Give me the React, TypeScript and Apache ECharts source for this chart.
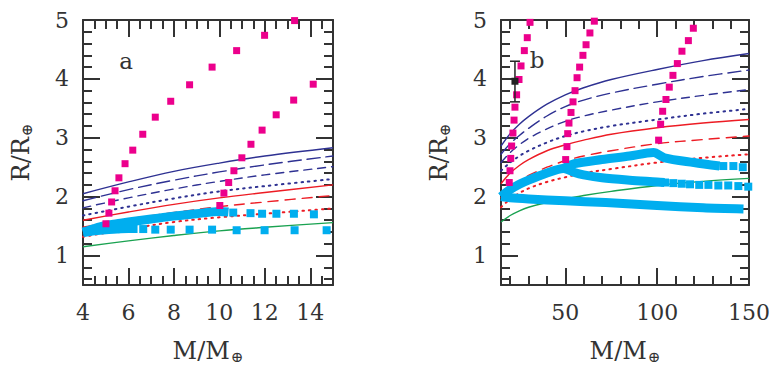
import React, { useEffect, useRef } from "react";
import * as echarts from "echarts";

// ---------- Panel a (M = 4..15) ----------
const massA = [4, 6, 8, 10, 12, 15];
const navySolidA = [2.05, 2.25, 2.43, 2.57, 2.69, 2.83];
const navyLongA = [1.93, 2.12, 2.28, 2.42, 2.54, 2.69];
const navyShortA = [1.81, 1.98, 2.13, 2.26, 2.37, 2.51];
const navyDotA = [1.68, 1.83, 1.97, 2.09, 2.18, 2.3];
const redSolidA = [1.6, 1.74, 1.87, 1.98, 2.07, 2.2];
const redDashA = [1.48, 1.62, 1.73, 1.83, 1.91, 2.02];
const redDotA = [1.32, 1.45, 1.57, 1.65, 1.71, 1.8];
const greenA = [1.15, 1.25, 1.34, 1.42, 1.48, 1.56];

const magA1x = [5.01, 5.14, 5.26, 5.41, 5.58, 5.85, 6.19, 6.63, 7.18, 7.86, 8.69, 9.68, 10.76, 11.99, 13.31];
const magA1y = [1.54, 1.72, 1.91, 2.1, 2.32, 2.56, 2.79, 3.06, 3.35, 3.62, 3.9, 4.2, 4.48, 4.74, 4.99];
const magA2x = [10.02, 10.2, 10.41, 10.64, 10.99, 11.39, 11.88, 12.5, 13.27, 14.13];
const magA2y = [1.85, 2.06, 2.24, 2.44, 2.66, 2.89, 3.13, 3.39, 3.64, 3.91];

const cyanAUpDenseX = [4, 4.5, 5, 5.5, 6, 7, 8, 9, 10, 10.4];
const cyanAUpDenseY = [1.4, 1.46, 1.51, 1.54, 1.57, 1.62, 1.67, 1.71, 1.75, 1.74];
const cyanAUpSparseX = [10.61, 11.37, 11.88, 12.51, 13.28, 14.16];
const cyanAUpSparseY = [1.73, 1.72, 1.71, 1.71, 1.71, 1.7];
const cyanALowDenseX = [4, 4.5, 5, 5.5, 6, 6.4];
const cyanALowDenseY = [1.39, 1.42, 1.44, 1.45, 1.46, 1.46];
const cyanALowSparseX = [6.65, 7.18, 7.86, 8.69, 9.68, 10.76, 11.99, 13.31, 14.72];
const cyanALowSparseY = [1.45, 1.44, 1.44, 1.44, 1.44, 1.43, 1.43, 1.43, 1.43];

// ---------- Panel b (M = 15..150) ----------
const massB = [15, 20, 25, 30, 40, 50, 60, 75, 100, 125, 150];
const navySolidB = [2.86, 3.07, 3.23, 3.36, 3.57, 3.73, 3.85, 3.99, 4.16, 4.31, 4.43];
const navyLongB = [2.72, 2.9, 3.04, 3.16, 3.37, 3.53, 3.64, 3.76, 3.91, 4.04, 4.15];
const navyShortB = [2.58, 2.75, 2.88, 2.99, 3.15, 3.28, 3.37, 3.47, 3.61, 3.72, 3.82];
const navyDotB = [2.44, 2.58, 2.69, 2.78, 2.92, 3.03, 3.11, 3.2, 3.31, 3.41, 3.49];
const redSolidB = [2.22, 2.4, 2.53, 2.63, 2.78, 2.88, 2.96, 3.06, 3.17, 3.25, 3.31];
const redDashB = [1.98, 2.14, 2.26, 2.36, 2.5, 2.61, 2.69, 2.78, 2.9, 2.97, 3.03];
const redDotB = [1.82, 1.96, 2.06, 2.14, 2.25, 2.33, 2.4, 2.47, 2.58, 2.66, 2.72];
const greenB = [1.57, 1.68, 1.76, 1.82, 1.9, 1.96, 2.02, 2.09, 2.19, 2.26, 2.31];

const magB1x = [19.5, 19.9, 20.3, 20.8, 21.5, 22.1, 22.6, 23.5, 24.8, 25.9, 27.7, 29.3, 30.8];
const magB1y = [2.24, 2.44, 2.65, 2.86, 3.08, 3.3, 3.52, 3.73, 3.99, 4.22, 4.48, 4.7, 4.96];
const magB2x = [50.2, 50.9, 51.3, 52.0, 53.1, 54.2, 55.3, 56.4, 57.8, 59.6, 61.3, 63.4, 65.8];
const magB2y = [2.63, 2.85, 3.07, 3.25, 3.43, 3.61, 3.8, 4.02, 4.2, 4.4, 4.58, 4.78, 4.98];
const magB3x = [100.8, 101.9, 103.0, 104.8, 106.6, 108.6, 111.0, 113.5, 117.0, 119.7];
const magB3y = [2.96, 3.23, 3.45, 3.65, 3.86, 4.06, 4.26, 4.47, 4.65, 4.86];

const cyanBMidDenseX = [15, 20, 25, 30, 40, 49, 55, 60, 70, 85, 100, 104];
const cyanBMidDenseY = [2.0, 2.12, 2.21, 2.28, 2.4, 2.48, 2.41, 2.37, 2.32, 2.28, 2.25, 2.24];
const cyanBMidSparseX = [104.3, 108.8, 113.4, 117.9, 122.9, 127.9, 133.3, 138.7, 144.2, 149.6];
const cyanBMidSparseY = [2.24, 2.23, 2.22, 2.21, 2.2, 2.2, 2.19, 2.19, 2.18, 2.17];
const cyanBUpDenseX = [49, 55, 70, 85, 98, 104, 120, 134];
const cyanBUpDenseY = [2.48, 2.56, 2.63, 2.69, 2.75, 2.66, 2.58, 2.52];
const cyanBUpSparseX = [136, 141.5, 146.6];
const cyanBUpSparseY = [2.52, 2.52, 2.5];
const cyanBLowDenseX = [15, 20, 30, 50, 72, 100, 125, 147];
const cyanBLowDenseY = [2.0, 1.98, 1.96, 1.93, 1.9, 1.85, 1.81, 1.79];

// observed planet with error bar: [mass, radius, low, high]
const observedB = [[22.6, 3.96, 3.61, 4.3]];

// ---------- ticks ----------
const xMajorA = [4, 6, 8, 10, 12, 14];
const xMinorA = [4.5, 5, 5.5, 6.5, 7, 7.5, 8.5, 9, 9.5, 10.5, 11, 11.5, 12.5, 13, 13.5, 14.5];
const xMajorB = [50, 100, 150];
const xMinorB = [20, 30, 40, 60, 70, 80, 90, 110, 120, 130, 140];
const yMajor = [1, 2, 3, 4, 5];
const yMinor = [0.6, 0.8, 1.2, 1.4, 1.6, 1.8, 2.2, 2.4, 2.6, 2.8, 3.2, 3.4, 3.6, 3.8, 4.2, 4.4, 4.6, 4.8];

const FONT = "'DejaVu Serif', serif";
const AX = "#333";
const NAVY = "#2e3192";
const RED = "#ed1c24";
const GREEN = "#1aa251";
const MAGENTA = "#ec008c";
const CYAN = "#00aeef";

function zip(xs: number[], ys: number[]) {
  return xs.map((x, i) => [x, ys[i]]);
}

function frame(grid: number, isX: boolean, min: number, max: number, major: number[], minor: number[], name: string, nameGap: number) {
  const pos = isX ? ["bottom", "top"] : ["left", "right"];
  const base = {
    type: "value",
    gridIndex: grid,
    min,
    max,
    splitLine: { show: false },
    axisPointer: { show: false },
  };
  const out: any[] = [];
  pos.forEach((p, pi) => {
    out.push({
      ...base,
      position: p,
      axisLine: { show: true, onZero: false, lineStyle: { color: AX, width: 2 } },
      axisTick: { show: true, inside: true, length: 17, customValues: major, lineStyle: { color: AX, width: 2 } },
      axisLabel:
        pi === 0
          ? { show: true, customValues: major, fontFamily: FONT, fontSize: 22, color: AX, margin: isX ? 16 : 14 }
          : { show: false },
      name: pi === 0 ? name : "",
      nameLocation: "middle",
      nameGap,
      nameRotate: isX ? 0 : 90,
      nameTextStyle: {
        fontFamily: FONT,
        fontSize: 24,
        color: AX,
        rich: { s: { fontFamily: FONT, fontSize: 15, color: AX, padding: [12, 0, 0, 1] } },
      },
    });
    out.push({
      ...base,
      position: p,
      axisLine: { show: false, onZero: false },
      axisTick: { show: true, inside: true, length: 9, customValues: minor, lineStyle: { color: AX, width: 2 } },
      axisLabel: { show: false },
    });
  });
  return out;
}

function lineS(g: number, xs: number[], ys: number[], color: string, dash: any, width = 1.4) {
  return {
    type: "line",
    xAxisIndex: g * 4,
    yAxisIndex: g * 4,
    data: zip(xs, ys),
    symbol: "none",
    smooth: 0.35,
    silent: true,
    z: 2,
    lineStyle: { color, width, type: dash, cap: dash === "solid" ? "butt" : "round" },
  };
}

function bandS(g: number, xs: number[], ys: number[]) {
  return {
    type: "line",
    xAxisIndex: g * 4,
    yAxisIndex: g * 4,
    data: zip(xs, ys),
    symbol: "none",
    smooth: 0.3,
    silent: true,
    z: 3,
    lineStyle: { color: CYAN, width: 9, cap: "butt", join: "round" },
  };
}

function dotS(g: number, xs: number[], ys: number[], color: string, size: number, z: number) {
  return {
    type: "scatter",
    xAxisIndex: g * 4,
    yAxisIndex: g * 4,
    data: zip(xs, ys),
    symbol: "rect",
    symbolSize: size,
    silent: true,
    clip: false,
    z,
    itemStyle: { color, opacity: 1 },
  };
}

export default function App() {
  const ref = useRef<HTMLDivElement>(null);
  useEffect(() => {
    if (!ref.current) return;
    const chart = echarts.init(ref.current, undefined, { renderer: "svg" });
    const xName = "M/M{s|⊕}";
    const yName = "R/R{s|⊕}";
    const option: any = {
      animation: false,
      backgroundColor: "#fff",
      grid: [
        { left: 83, top: 20, width: 250, height: 265 },
        { left: 501, top: 20, width: 248, height: 265 },
      ],
      xAxis: [
        ...frame(0, true, 4, 15, xMajorA, xMinorA, xName, 52),
        ...frame(1, true, 15, 150, xMajorB, xMinorB, xName, 52),
      ],
      yAxis: [
        ...frame(0, false, 0.5, 5, yMajor, yMinor, yName, 49),
        ...frame(1, false, 0.5, 5, yMajor, yMinor, yName, 49),
      ],
      graphic: [
        { type: "text", x: 126, y: 61, style: { text: "a", fontFamily: FONT, fontSize: 23, fill: AX, align: "center", verticalAlign: "middle" } },
        { type: "text", x: 537, y: 60, style: { text: "b", fontFamily: FONT, fontSize: 23, fill: AX, align: "center", verticalAlign: "middle" } },
      ],
      series: [
        // panel a curves
        lineS(0, massA, navySolidA, NAVY, "solid"),
        lineS(0, massA, navyLongA, NAVY, [13, 6]),
        lineS(0, massA, navyShortA, NAVY, [8, 6]),
        lineS(0, massA, navyDotA, NAVY, [1.5, 5], 2),
        lineS(0, massA, redSolidA, RED, "solid"),
        lineS(0, massA, redDashA, RED, [10, 7]),
        lineS(0, massA, redDotA, RED, [1.5, 5], 2),
        lineS(0, massA, greenA, GREEN, "solid"),
        bandS(0, cyanAUpDenseX, cyanAUpDenseY),
        bandS(0, cyanALowDenseX, cyanALowDenseY),
        dotS(0, cyanAUpSparseX, cyanAUpSparseY, CYAN, 8, 3),
        dotS(0, cyanALowSparseX, cyanALowSparseY, CYAN, 8, 3),
        dotS(0, magA1x, magA1y, MAGENTA, 7, 4),
        dotS(0, magA2x, magA2y, MAGENTA, 7, 4),
        // panel b curves
        lineS(1, massB, navySolidB, NAVY, "solid"),
        lineS(1, massB, navyLongB, NAVY, [13, 6]),
        lineS(1, massB, navyShortB, NAVY, [8, 6]),
        lineS(1, massB, navyDotB, NAVY, [1.5, 5], 2),
        lineS(1, massB, redSolidB, RED, "solid"),
        lineS(1, massB, redDashB, RED, [10, 7]),
        lineS(1, massB, redDotB, RED, [1.5, 5], 2),
        lineS(1, massB, greenB, GREEN, "solid"),
        bandS(1, cyanBMidDenseX, cyanBMidDenseY),
        bandS(1, cyanBUpDenseX, cyanBUpDenseY),
        bandS(1, cyanBLowDenseX, cyanBLowDenseY),
        dotS(1, cyanBMidSparseX, cyanBMidSparseY, CYAN, 8, 3),
        dotS(1, cyanBUpSparseX, cyanBUpSparseY, CYAN, 8, 3),
        dotS(1, magB1x, magB1y, MAGENTA, 7, 4),
        dotS(1, magB2x, magB2y, MAGENTA, 7, 4),
        dotS(1, magB3x, magB3y, MAGENTA, 7, 4),
        {
          type: "custom",
          xAxisIndex: 4,
          yAxisIndex: 4,
          data: observedB,
          encode: { x: 0, y: 1 },
          z: 5,
          silent: true,
          renderItem: (_p: any, api: any) => {
            const p = api.coord([api.value(0), api.value(1)]);
            const lo = api.coord([api.value(0), api.value(2)]);
            const hi = api.coord([api.value(0), api.value(3)]);
            const st = { stroke: "#222", lineWidth: 1.5 };
            return {
              type: "group",
              children: [
                { type: "line", shape: { x1: lo[0], y1: lo[1], x2: hi[0], y2: hi[1] }, style: st },
                { type: "line", shape: { x1: lo[0] - 5, y1: lo[1], x2: lo[0] + 5, y2: lo[1] }, style: st },
                { type: "line", shape: { x1: hi[0] - 5, y1: hi[1], x2: hi[0] + 5, y2: hi[1] }, style: st },
                { type: "rect", shape: { x: p[0] - 3.5, y: p[1] - 3.5, width: 7, height: 7 }, style: { fill: "#222" } },
              ],
            };
          },
        },
      ],
    };
    chart.setOption(option);
    return () => chart.dispose();
  }, []);
  return <div ref={ref} style={{ position: "fixed", left: 0, top: 0, width: 780, height: 370 }} />;
}
